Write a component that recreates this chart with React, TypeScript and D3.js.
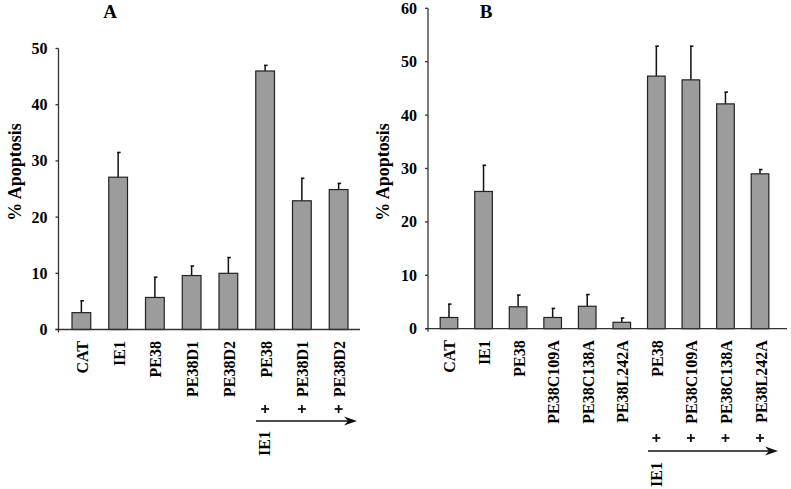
import React from "react";
import * as d3 from "d3";

const labelsA = ["CAT", "IE1", "PE38", "PE38D1", "PE38D2", "PE38", "PE38D1", "PE38D2"];
const valuesA = [3.0, 27.1, 5.7, 9.6, 10.0, 46.0, 22.9, 24.9];
const errorsA = [2.1, 4.4, 3.6, 1.7, 2.8, 1.0, 4.0, 1.1];
const ticksA = [0, 10, 20, 30, 40, 50];
const plusStartA = 5;

const labelsB = ["CAT", "IE1", "PE38", "PE38C109A", "PE38C138A", "PE38L242A", "PE38", "PE38C109A", "PE38C138A", "PE38L242A"];
const valuesB = [2.1, 25.7, 4.1, 2.1, 4.2, 1.2, 47.3, 46.6, 42.1, 29.0];
const errorsB = [2.5, 4.9, 2.2, 1.7, 2.2, 0.8, 5.6, 6.3, 2.2, 0.8];
const ticksB = [0, 10, 20, 30, 40, 50, 60];
const plusStartB = 6;

const FONT = "'Liberation Serif', 'Times New Roman', serif";

type PanelProps = {
  title: string;
  titleX: number;
  labels: string[];
  values: number[];
  errors: number[];
  ticks: number[];
  plusStart: number;
  axisX: number;
  axisEnd: number;
  y0: number;
  yTop: number;
  bandStart: number;
  bandEnd: number;
  yTitleX: number;
  yTitleY: number;
  plusY: number;
  arrowY: number;
  arrowX0: number;
  arrowX1: number;
  ie1Y: number;
};

function Panel(p: PanelProps) {
  const yMax = p.ticks[p.ticks.length - 1];
  const y = d3.scaleLinear().domain([0, yMax]).range([p.y0, p.yTop]);
  const x = d3
    .scaleBand<number>()
    .domain(p.labels.map((_, i) => i))
    .range([p.bandStart, p.bandEnd])
    .paddingInner(0.49)
    .paddingOuter(0.245);
  const bw = x.bandwidth();
  const labelTop = p.y0 + 11.5;
  return (
    <g>
      <text x={p.titleX} y={18} fontFamily={FONT} fontWeight="bold" fontSize={19} textAnchor="middle">
        {p.title}
      </text>
      <text
        transform={`translate(${p.yTitleX},${p.yTitleY}) rotate(-90)`}
        fontFamily={FONT}
        fontWeight="bold"
        fontSize={18}
        textAnchor="middle"
        dominantBaseline="central"
      >
        % Apoptosis
      </text>
      {/* bars */}
      {p.values.map((v, i) => {
        const cx = (x(i) as number) + bw / 2;
        const top = y(v + p.errors[i]);
        return (
          <g key={i}>
            <line x1={cx} x2={cx} y1={y(v)} y2={top} stroke="#111" strokeWidth={1.5} />
            <line x1={cx - 1} x2={cx + 2.5} y1={top} y2={top} stroke="#111" strokeWidth={1.6} />
            <rect
              x={x(i)}
              y={y(v)}
              width={bw}
              height={p.y0 - y(v)}
              fill="#9c9c9c"
              stroke="#222"
              strokeWidth={1.2}
            />
          </g>
        );
      })}
      {/* axes */}
      <line x1={p.axisX} x2={p.axisX} y1={p.yTop} y2={p.y0 + 3} stroke="#333" strokeWidth={1.3} />
      <line x1={p.axisX - 3} x2={p.axisEnd} y1={p.y0} y2={p.y0} stroke="#333" strokeWidth={1.3} />
      {p.ticks.map((t) => (
        <g key={t}>
          <line x1={p.axisX - 3} x2={p.axisX} y1={y(t)} y2={y(t)} stroke="#333" strokeWidth={1.3} />
          <text
            x={p.axisX - 11}
            y={y(t)}
            fontFamily={FONT}
            fontWeight="bold"
            fontSize={16}
            textAnchor="end"
            dominantBaseline="central"
          >
            {t}
          </text>
        </g>
      ))}
      {/* category labels */}
      {p.labels.map((l, i) => {
        const cx = (x(i) as number) + bw / 2;
        return (
          <text
            key={i}
            transform={`translate(${cx + 1},${labelTop}) rotate(-90)`}
            fontFamily={FONT}
            fontWeight="bold"
            fontSize={16}
            textAnchor="end"
            dominantBaseline="central"
          >
            {l}
          </text>
        );
      })}
      {/* plus signs */}
      {p.labels.map((_, i) => {
        if (i < p.plusStart) return null;
        const cx = (x(i) as number) + bw / 2;
        return (
          <g key={"p" + i} stroke="#111" strokeWidth={1.8}>
            <line x1={cx - 4} x2={cx + 4} y1={p.plusY} y2={p.plusY} />
            <line x1={cx} x2={cx} y1={p.plusY - 4} y2={p.plusY + 4} />
          </g>
        );
      })}
      <line x1={p.arrowX0} x2={p.arrowX1 - 6} y1={p.arrowY} y2={p.arrowY} stroke="#111" strokeWidth={1.6} />
      <path
        d={`M${p.arrowX1},${p.arrowY} L${p.arrowX1 - 13},${p.arrowY - 4.5} L${p.arrowX1 - 9},${p.arrowY} L${p.arrowX1 - 13},${p.arrowY + 4.5} Z`}
        fill="#111"
      />
      <text
        transform={`translate(${p.arrowX0 + 8},${p.ie1Y}) rotate(-90)`}
        fontFamily={FONT}
        fontWeight="bold"
        fontSize={16}
        textAnchor="end"
        dominantBaseline="central"
      >
        IE1
      </text>
    </g>
  );
}

export default function App() {
  return (
    <svg
      width={791}
      height={489}
      style={{ position: "absolute", left: 0, top: 0, background: "#fff" }}
    >
      <rect width={791} height={489} fill="#fff" />
      <Panel
        title="A"
        titleX={110}
        labels={labelsA}
        values={valuesA}
        errors={errorsA}
        ticks={ticksA}
        plusStart={plusStartA}
        axisX={58.5}
        axisEnd={360}
        y0={329.5}
        yTop={48.5}
        bandStart={63}
        bandEnd={357}
        yTitleX={15}
        yTitleY={172}
        plusY={409}
        arrowY={421}
        arrowX0={256}
        arrowX1={357}
        ie1Y={431}
      />
      <Panel
        title="B"
        titleX={486}
        labels={labelsB}
        values={valuesB}
        errors={errorsB}
        ticks={ticksB}
        plusStart={plusStartB}
        axisX={428}
        axisEnd={787}
        y0={328.7}
        yTop={8.3}
        bandStart={431.7}
        bandEnd={777.3}
        yTitleX={383}
        yTitleY={172}
        plusY={438}
        arrowY={451}
        arrowX0={648}
        arrowX1={778}
        ie1Y={462}
      />
    </svg>
  );
}
